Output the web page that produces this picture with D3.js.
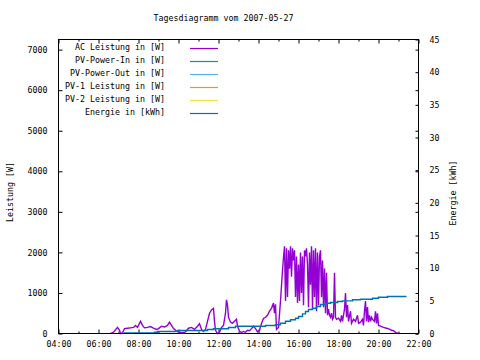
<!DOCTYPE html>
<html><head><meta charset="utf-8">
<script src="https://cdn.jsdelivr.net/npm/d3@7"></script>
<style>
html,body{margin:0;padding:0;background:#fff;}
svg{display:block;}
text{font-family:"DejaVu Sans Mono","Liberation Mono",monospace;font-size:8.3px;fill:#000;}
</style></head><body>
<svg id="chart" width="480" height="360"></svg>
<script>
const chartTitle = "Tagesdiagramm vom 2007-05-27";
const xTickLabels = ["04:00","06:00","08:00","10:00","12:00","14:00","16:00","18:00","20:00","22:00"];
const yTicksLeft = [0,1000,2000,3000,4000,5000,6000,7000];
const yTicksRight = [0,5,10,15,20,25,30,35,40,45];
const seriesNames = ["AC Leistung in [W]","PV-Power-In in [W]","PV-Power-Out in [W]","PV-1 Leistung in [W]","PV-2 Leistung in [W]","Energie in [kWh]"];
const seriesColors = ["#9400d3","#009e73","#56b4e9","#e69f00","#f0e442","#0072b2"];

const acTimes = ["06:36","06:45","06:57","07:03","07:06","07:12","07:18","07:27","07:36","07:45","07:51","07:57",
"08:06","08:12","08:18","08:27","08:36","08:45","08:54","09:00","09:09","09:18","09:27","09:33","09:39","09:45","09:54",
"10:03","10:12","10:21","10:30","10:39","10:48","10:57","11:03","11:09","11:15","11:21","11:27","11:33","11:39","11:45","11:48","11:51","11:57",
"12:03","12:09","12:15","12:21","12:24","12:27","12:30","12:36","12:42","12:48","12:54","12:57",
"13:03","13:09","13:15","13:21","13:27","13:33","13:39","13:45","13:51","13:57",
"14:03","14:09","14:15","14:21","14:27","14:33","14:39","14:45","14:48","14:51","14:54",
"15:00","15:06","15:12","15:15","15:18","15:21","15:24","15:27","15:30","15:33","15:36","15:39","15:42","15:45","15:48","15:51","15:54","15:57",
"16:00","16:03","16:06","16:09","16:12","16:15","16:18","16:21","16:24","16:27","16:30","16:33","16:36","16:39","16:42","16:45","16:48","16:51","16:54","16:57",
"17:00","17:03","17:06","17:09","17:12","17:15","17:18","17:21","17:24","17:27","17:30","17:33","17:36","17:39","17:42","17:45","17:48","17:51","17:54",
"18:00","18:06","18:09","18:12","18:18","18:21","18:24","18:27","18:30","18:36","18:39","18:45","18:51","18:57",
"19:00","19:06","19:12","19:15","19:18","19:21","19:24","19:27","19:30","19:33","19:36","19:39","19:42","19:48","19:51","19:54","19:57",
"20:00","20:06","20:15","20:24","20:33","20:39","20:45","20:51","20:57","21:00"];
const acWatts = [0,30,150,80,0,20,120,130,140,150,200,150,
300,200,140,150,170,130,100,120,180,160,200,280,200,120,60,
30,20,40,130,150,100,180,240,100,50,100,300,500,580,620,300,80,0,
30,150,200,500,830,700,400,280,250,300,350,180,
60,20,50,30,80,70,120,180,120,40,
80,250,370,400,450,550,620,750,500,720,100,
150,800,1550,1880,2150,800,2100,900,2050,1600,2150,1400,2100,1800,2050,900,1900,750,
1700,800,2000,1000,1900,700,2050,1900,2100,1700,650,2000,1200,2150,600,2050,900,2100,550,2000,
700,1900,2050,900,1800,650,1600,500,1500,450,600,450,400,500,350,400,1500,400,350,
380,300,450,300,600,1000,400,700,300,550,250,350,300,450,
250,280,350,200,550,800,300,650,280,450,300,400,350,300,550,250,500,
200,180,150,130,110,80,70,30,10,0];

const energyTimes = ["07:15","08:48","08:57","09:57","11:27","11:45","12:30","12:51","14:21","14:51","15:06","15:21","15:36","15:51",
"16:00","16:12","16:21","16:30","16:42","16:54","17:06","17:21","17:36","17:57","18:12","18:42","19:06","19:42","20:00","20:27","21:24"];
const energyKWh = [0.1,0.2,0.3,0.46,0.61,0.72,0.92,1.1,1.22,1.33,1.58,1.88,2.1,2.34,
2.6,3.0,3.37,3.67,3.87,4.13,4.44,4.64,4.75,4.9,5.0,5.16,5.25,5.4,5.56,5.66,5.66];

const toH = s => { const [h,m] = s.split(":").map(Number); return h + m/60; };

const svg = d3.select("#chart");
const L = 58.5, R = 418.5, T = 39.5, B = 333.5;
const x = d3.scaleLinear().domain([4,22]).range([L,R]);
const y = d3.scaleLinear().domain([0,7250]).range([B,T]);
const y2 = d3.scaleLinear().domain([0,45]).range([B,T]);

svg.append("text").attr("x",223.5).attr("y",21).attr("text-anchor","middle").text(chartTitle);

const fmtTime = h => xTickLabels[(h-4)/2];
const majorX = d3.range(4,23,2), minorX = d3.range(5,22,2);

function styleAxis(g, keepText){
  g.select(".domain").remove();
  g.selectAll("line").attr("stroke","#000").attr("stroke-width",1);
  g.selectAll("text").attr("font-family",null).attr("font-size",null).attr("fill","#000");
  if(!keepText) g.selectAll("text").remove();
}
svg.append("g").attr("transform",`translate(0,${B})`)
  .call(d3.axisBottom(x).tickValues(majorX).tickFormat(fmtTime).tickSize(-4).tickPadding(8))
  .call(g=>styleAxis(g,true));
svg.append("g").attr("transform",`translate(0,${B})`)
  .call(d3.axisBottom(x).tickValues(minorX).tickSize(-2)).call(g=>styleAxis(g,false));
svg.append("g").attr("transform",`translate(0,${T})`)
  .call(d3.axisTop(x).tickValues(majorX).tickSize(-4)).call(g=>styleAxis(g,false));
svg.append("g").attr("transform",`translate(0,${T})`)
  .call(d3.axisTop(x).tickValues(minorX).tickSize(-2)).call(g=>styleAxis(g,false));
svg.append("g").attr("transform",`translate(${L},0)`)
  .call(d3.axisLeft(y).tickValues(yTicksLeft).tickFormat(d3.format("d")).tickSize(-4).tickPadding(11))
  .call(g=>styleAxis(g,true));
svg.append("g").attr("transform",`translate(${R},0)`)
  .call(d3.axisRight(y).tickValues(yTicksLeft).tickSize(-3)).call(g=>styleAxis(g,false));
svg.append("g").attr("transform",`translate(${R},0)`)
  .call(d3.axisRight(y2).tickValues(yTicksRight).tickFormat(d3.format("d")).tickSize(-3).tickPadding(11))
  .call(g=>styleAxis(g,true));

svg.append("text").attr("transform","translate(12.5,192) rotate(-90)").attr("text-anchor","middle").text("Leistung [W]");
svg.append("text").attr("transform","translate(455.5,193) rotate(-90)").attr("text-anchor","middle").text("Energie [kWh]");

const acData = acTimes.map((t,i)=>[toH(t),acWatts[i]]);
const enData = energyTimes.map((t,i)=>[toH(t),energyKWh[i]]);
svg.append("path").datum(acData)
  .attr("d",d3.line().x(d=>x(d[0])).y(d=>y(d[1])))
  .attr("fill","none").attr("stroke",seriesColors[0]).attr("stroke-width",1.4);
svg.append("path").datum(enData)
  .attr("d",d3.line().curve(d3.curveStepAfter).x(d=>x(d[0])).y(d=>y2(d[1])))
  .attr("fill","none").attr("stroke",seriesColors[5]).attr("stroke-width",1.4);

const lg = svg.append("g");
seriesNames.forEach((n,i)=>{
  const by = 50 + i*13;
  lg.append("text").attr("x",165).attr("y",by).attr("text-anchor","end").text(n);
  lg.append("line").attr("x1",190).attr("x2",218).attr("y1",by-1.5).attr("y2",by-1.5)
    .attr("stroke",seriesColors[i]).attr("stroke-width",1.2);
});

svg.append("rect").attr("x",L).attr("y",T).attr("width",R-L).attr("height",B-T)
  .attr("fill","none").attr("stroke","#000").attr("stroke-width",1);
</script>
</body></html>
